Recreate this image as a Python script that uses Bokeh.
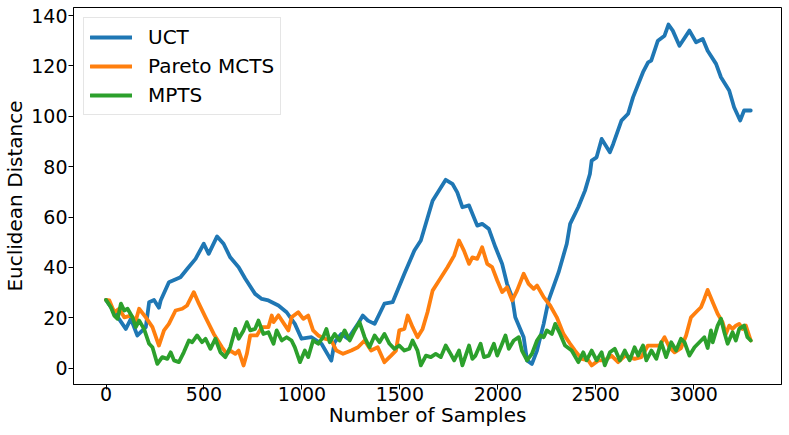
from bokeh.plotting import figure
from bokeh.models import Range1d, FixedTicker, Legend, LegendItem
from bokeh.embed import file_html
from bokeh.resources import INLINE

# ---- data ----
uct_x = [0, 101, 127, 160, 203, 220, 245, 270, 279, 321, 380, 414, 457, 499, 524, 567, 600, 634,
         677, 711, 761, 795, 829, 880, 922, 964, 998, 1049, 1100, 1150, 1167, 1201, 1235, 1286,
         1311, 1337, 1371, 1421, 1463, 1523, 1574, 1607, 1667, 1734, 1768, 1793, 1819, 1853,
         1895, 1920, 1954, 1988, 2022, 2047, 2073, 2089, 2132, 2149, 2174, 2200, 2234, 2259,
         2310, 2352, 2369, 2411, 2445, 2470, 2479, 2504, 2530, 2572, 2589, 2631, 2665, 2690,
         2741, 2767, 2783, 2817, 2851, 2871, 2893, 2927, 2978, 3012, 3046, 3071, 3114, 3139,
         3181, 3206, 3237, 3257, 3291]
uct_y = [27.1, 15.6, 19.6, 13.0, 16.3, 26.2, 27.1, 24.0, 26.9, 34.1, 36.1, 39.4, 43.4, 49.4, 45.4,
         52.3, 49.4, 44.0, 40.1, 35.5, 29.5, 27.5, 26.9, 24.9, 22.2, 17.6, 11.7, 12.3, 9.7, 3.0,
         10.3, 13.6, 11.7, 17.6, 20.9, 18.9, 17.6, 25.6, 26.2, 37.5, 46.7, 50.7, 66.5, 74.8,
         73.2, 69.8, 63.9, 64.6, 56.6, 57.3, 55.3, 48.0, 41.4, 33.5, 28.2, 20.2, 12.3, 3.1, 1.7,
         7.0, 17.6, 26.9, 38.0, 49.4, 57.3, 64.0, 70.5, 77.1, 82.4, 83.7, 91.0, 85.7, 89.0,
         98.3, 101.0, 107.5, 117.5, 121.4, 122.1, 130.0, 132.0, 136.4, 134.0, 128.0, 134.0,
         129.4, 130.7, 126.0, 120.8, 115.5, 110.2, 103.6, 98.3, 102.3, 102.3]

pareto_x = [0, 17, 42, 67, 93, 127, 152, 169, 203, 237, 270, 296, 321, 355, 389, 414, 448, 474, 508,
            550, 592, 617, 634, 660, 677, 702, 719, 736, 770, 795, 829, 846, 855, 880, 931, 947,
            981, 1007, 1032, 1057, 1083, 1117, 1150, 1176, 1210, 1252, 1286, 1320, 1353, 1387,
            1421, 1455, 1480, 1497, 1523, 1540, 1565, 1590, 1616, 1641, 1667, 1700, 1743, 1777,
            1802, 1827, 1853, 1870, 1895, 1920, 1946, 1971, 1997, 2022, 2047, 2073, 2098, 2132,
            2157, 2183, 2200, 2234, 2267, 2301, 2335, 2369, 2394, 2428, 2462, 2479, 2513, 2546,
            2580, 2614, 2650, 2698, 2733, 2766, 2784, 2826, 2851, 2876, 2902, 2935, 2961, 2986,
            3020, 3037, 3054, 3071, 3097, 3122, 3147, 3164, 3181, 3198, 3215, 3232, 3249, 3266,
            3291]
pareto_y = [27.1, 26.9, 22.2, 23.6, 20.2, 20.9, 18.9, 23.6, 20.2, 16.3, 9.0, 15.0, 17.6, 22.9, 23.6,
            24.9, 30.2, 25.6, 20.2, 13.6, 8.3, 5.7, 7.0, 5.7, 7.0, 1.1, 5.7, 13.0, 13.0, 16.3,
            16.3, 20.9, 18.3, 21.0, 15.0, 20.2, 22.2, 19.6, 20.9, 15.0, 13.0, 11.7, 11.0, 7.0,
            5.7, 7.0, 8.3, 11.0, 7.0, 8.3, 2.4, 5.0, 7.0, 15.0, 15.6, 20.9, 16.3, 12.3, 15.6,
            22.2, 30.8, 34.8, 40.1, 44.7, 50.7, 46.7, 41.4, 44.0, 43.4, 48.0, 41.4, 40.1, 34.8,
            30.2, 32.1, 26.9, 30.8, 37.5, 33.5, 31.5, 32.8, 28.2, 24.9, 20.2, 13.6, 9.7, 7.0,
            3.7, 3.1, 1.1, 3.1, 3.1, 5.0, 2.4, 5.0, 3.7, 4.4, 9.0, 9.0, 9.0, 12.3, 8.3, 6.3, 8.0,
            13.0, 20.2, 22.9, 24.2, 27.5, 31.1, 26.2, 21.6, 18.3, 13.6, 16.9, 15.6, 16.9, 17.6,
            15.6, 16.9, 11.0]

mpts_x = [0, 25, 42, 59, 76, 93, 110, 135, 152, 169, 194, 220, 237, 262, 287, 313, 330, 347, 372,
          397, 423, 440, 465, 490, 508, 533, 558, 584, 609, 634, 660, 677, 702, 719, 736, 761,
          778, 803, 829, 855, 871, 897, 922, 947, 964, 990, 1015, 1032, 1057, 1083, 1108, 1125,
          1142, 1167, 1193, 1218, 1244, 1269, 1294, 1320, 1345, 1371, 1396, 1421, 1447, 1472,
          1497, 1523, 1548, 1565, 1590, 1607, 1633, 1658, 1683, 1709, 1734, 1759, 1777, 1802,
          1819, 1853, 1870, 1886, 1912, 1929, 1954, 1980, 1997, 2022, 2039, 2056, 2081, 2107,
          2123, 2149, 2174, 2200, 2217, 2234, 2250, 2276, 2293, 2318, 2343, 2377, 2411, 2436,
          2453, 2479, 2504, 2530, 2546, 2572, 2597, 2623, 2648, 2673, 2698, 2716, 2741, 2758,
          2784, 2809, 2834, 2859, 2885, 2910, 2935, 2953, 2978, 3004, 3029, 3054, 3071, 3088,
          3097, 3122, 3139, 3156, 3173, 3198, 3215, 3232, 3257, 3274, 3291]
mpts_y = [27.1, 24.2, 20.9, 19.6, 25.6, 22.9, 23.6, 20.2, 16.3, 18.9, 15.6, 9.7, 8.3, 1.7, 4.4,
          3.7, 6.3, 3.1, 2.4, 6.3, 11.0, 10.3, 13.0, 10.3, 11.7, 7.7, 11.7, 6.3, 4.4, 8.3, 15.6,
          11.7, 15.0, 18.3, 15.0, 15.6, 18.9, 13.6, 14.3, 9.7, 15.0, 11.0, 12.3, 11.0, 8.3, 2.4,
          7.0, 4.4, 11.0, 9.7, 12.3, 15.6, 10.3, 13.6, 11.0, 15.0, 11.0, 15.0, 18.3, 12.3, 8.3,
          13.0, 10.3, 13.6, 9.7, 7.7, 9.0, 7.0, 7.7, 11.0, 7.0, 1.1, 5.0, 4.4, 5.7, 4.4, 9.0,
          5.7, 3.1, 7.0, 1.1, 9.0, 3.7, 5.0, 9.7, 4.4, 5.0, 9.7, 5.0, 9.7, 13.0, 7.7, 11.0,
          12.3, 7.0, 3.1, 5.7, 11.0, 13.0, 12.3, 15.0, 13.6, 17.6, 13.6, 9.0, 7.0, 2.4, 6.3,
          3.1, 7.0, 3.1, 6.3, 1.1, 6.3, 7.7, 3.1, 7.0, 3.1, 8.3, 5.0, 9.0, 3.1, 7.0, 3.7, 10.3,
          4.4, 10.3, 7.0, 11.7, 10.3, 5.0, 8.3, 10.3, 12.3, 8.0, 15.0, 10.3, 16.9, 19.6, 14.3,
          9.7, 14.3, 11.0, 15.6, 16.9, 12.3, 11.0]

series_names = ["UCT", "Pareto MCTS", "MPTS"]
series_colors = ["#1f77b4", "#ff7f0e", "#2ca02c"]
x_ticks = [0, 500, 1000, 1500, 2000, 2500, 3000]
y_ticks = [0, 20, 40, 60, 80, 100, 120, 140]

FONT = "DejaVu Sans"

p = figure(width=788, height=434, output_backend="svg", toolbar_location=None,
           x_range=Range1d(-166, 3448), y_range=Range1d(-6.47, 143.18),
           min_border_left=69, min_border_right=7, min_border_top=7, min_border_bottom=50)
p.grid.visible = False
p.outline_line_color = "black"
p.outline_line_width = 1

for ax in (p.xaxis[0], p.yaxis[0]):
    ax.major_label_text_font = FONT
    ax.major_label_text_font_size = "19px"
    ax.major_label_text_color = "black"
    ax.axis_label_text_font = FONT
    ax.axis_label_text_font_size = "20px"
    ax.axis_label_text_font_style = "normal"
    ax.axis_label_text_color = "black"
    ax.major_tick_out = 5
    ax.major_tick_in = 0
    ax.minor_tick_out = 0
    ax.minor_tick_in = 0
    ax.axis_line_color = "black"
    ax.major_tick_line_color = "black"

p.xaxis.major_label_standoff = -3
p.xaxis.axis_label_standoff = -1
p.yaxis.major_label_standoff = 1
p.yaxis.axis_label_standoff = 1

p.xaxis.ticker = FixedTicker(ticks=x_ticks)
p.yaxis.ticker = FixedTicker(ticks=y_ticks)
p.xaxis.axis_label = "Number of Samples"
p.yaxis.axis_label = "Euclidean Distance"

data = [(uct_x, uct_y), (pareto_x, pareto_y), (mpts_x, mpts_y)]
items = []
for (xs, ys), name, col in zip(data, series_names, series_colors):
    r = p.line(xs, ys, line_color=col, line_width=3.8, line_join="round", line_cap="round")
    items.append(LegendItem(label=name, renderers=[r]))

legend = Legend(items=items, location="top_left", margin=10, padding=6, spacing=3,
                glyph_width=42, glyph_height=26, label_height=26, label_standoff=16,
                label_text_font=FONT, label_text_font_size="20px", label_text_color="black",
                border_line_color="#cccccc", border_line_width=1,
                background_fill_alpha=0.8)
p.add_layout(legend, "center")

open("out.html", "w").write(file_html(p, INLINE))
